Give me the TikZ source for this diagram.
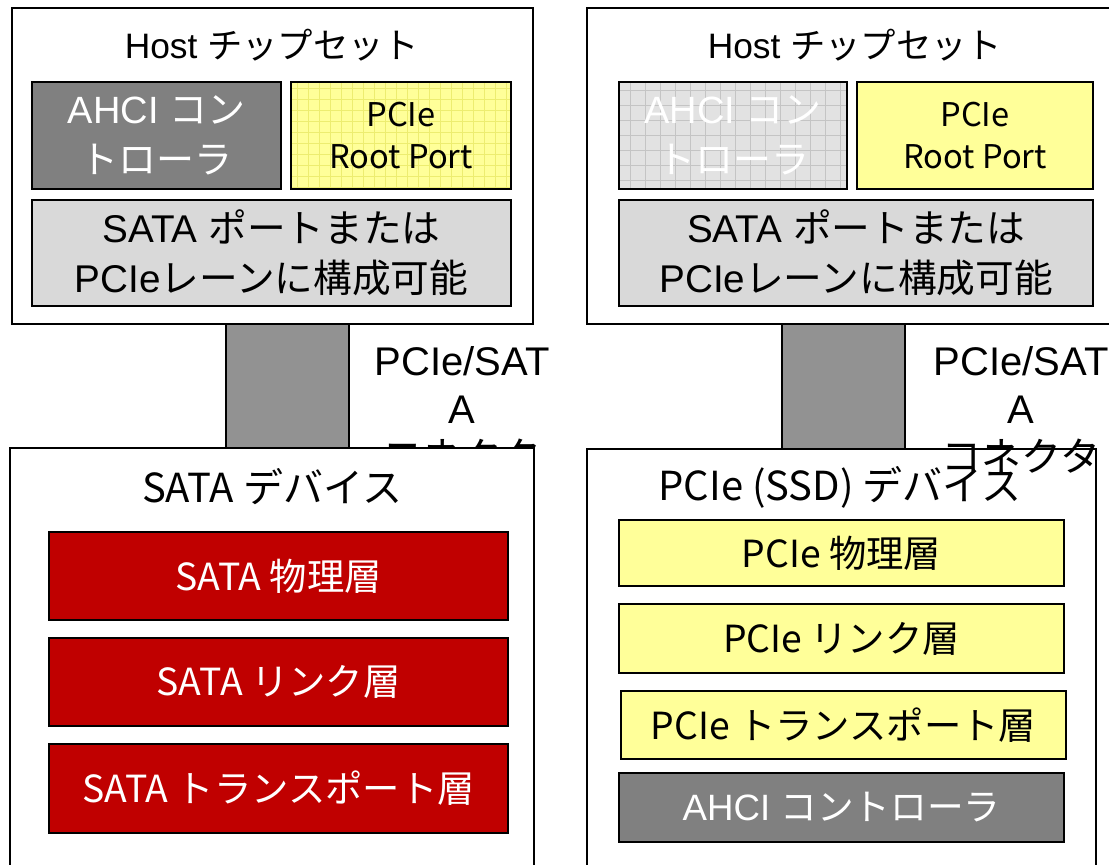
\documentclass[tikz,border=0pt]{standalone}
\usepackage{fontspec}
\setmainfont{Liberation Sans}
\newfontfamily\jp{Noto Sans CJK JP}
\usetikzlibrary{calc}

\definecolor{lightyellow}{HTML}{FFFF99}
\definecolor{darkgray}{HTML}{808080}
\definecolor{portgray}{HTML}{D9D9D9}
\definecolor{dimgray}{HTML}{E2E2E2}
\definecolor{gridgray}{HTML}{C4C4C4}
\definecolor{gridyellow}{HTML}{EDED70}
\definecolor{layerred}{HTML}{C00000}
\definecolor{plug}{HTML}{929292}

% box given by its pixel corners (x1,y1)-(x2,y2)
\newcommand\pbox[7]{%
  \node[#6, minimum width={(#4-#2)*0.75pt}, minimum height={(#5-#3)*0.75pt}]
    (#1) at ({(#2+#4)/2},{(#3+#5)/2}) {#7};}

\tikzset{
  base/.style={draw=black, line width=1.5pt, inner sep=0pt, outer sep=0pt,
    align=center, font=\fontsize{28}{37.5}\selectfont},
  outerbox/.style={base, fill=white},
  ahcibox/.style={base, fill=darkgray, text=white, font=\fontsize{28.5}{37.5}\selectfont},
  rootbox/.style={base, fill=lightyellow, font=\fontsize{24.5}{31.5}\selectfont},
  portbox/.style={base, fill=portgray, font=\fontsize{29}{37.5}\selectfont},
  plugbox/.style={base, fill=plug},
  redlayer/.style={base, fill=layerred, text=white},
  yellowlayer/.style={base, fill=lightyellow},
  graylayer/.style={base, fill=darkgray, text=white, font=\fontsize{27.5}{36}\selectfont},
  hosttext/.style={inner sep=0pt, font=\fontsize{26.5}{36}\selectfont},
  titletext/.style={inner sep=0pt, font=\fontsize{30}{36}\selectfont},
  plugtext/.style={inner sep=0pt, align=center, font=\fontsize{30}{36}\selectfont},
}

\begin{document}
\begin{tikzpicture}[x=0.75pt, y=-0.75pt]
\clip (0,0) rectangle (1109,864);
\fill[white] (0,0) rectangle (1109,864);

% ---------------- left: SATA device ----------------
\pbox{hostL}{12}{8}{533}{324}{outerbox}{}
\node[hosttext] (hostLt) at (272,45) {Host {\jp チップセット}};
\pbox{ahciL}{32}{82}{281}{189}{ahcibox}{AHCI {\jp コン}\\{\jp トローラ}}
\pbox{rootL}{291}{82}{511}{189}{rootbox}{}
\begin{scope}
  \clip (291,82) rectangle (511,189);
  \draw[gridyellow, line width=0.5pt, step=8.25pt] (291,82) grid (511,189);
\end{scope}
\node[base, draw=none, fill=none, font=\fontsize{24.5}{31.5}\selectfont] (rootLt) at (rootL) {{\jp PCIe}\\{\jp Root Port}};
\draw[black, line width=1.5pt] (rootL.south west) rectangle (rootL.north east);
\pbox{portL}{32}{200}{511}{306}{portbox}{SATA {\jp ポートまたは}\\PCIe{\jp レーンに構成可能}}

\pbox{plugL}{226}{324}{349}{448}{plugbox}{}
\node[plugtext] (plugLt) at (462,410) {PCIe/SAT\\A\\{\jp コネクタ}};

\pbox{devL}{10}{448}{534}{900}{outerbox}{}
\node[titletext] (devLt) at (272,487) {\jp SATA デバイス};
\pbox{phyL}{49}{532}{508}{620}{redlayer}{\jp SATA 物理層}
\pbox{linkL}{49}{638}{508}{726}{redlayer}{\jp SATA リンク層}
\pbox{tranL}{49}{744}{508}{833}{redlayer}{\jp SATA トランスポート層}

% ---------------- right: PCIe (SSD) device ----------------
\pbox{hostR}{587}{8}{1130}{324}{outerbox}{}
\node[hosttext] (hostRt) at (855,45) {Host {\jp チップセット}};
\pbox{ahciR}{619}{82}{847}{189}{base, fill=dimgray}{}
\begin{scope}
  \clip (619,82) rectangle (847,189);
  \draw[gridgray, line width=0.5pt, step=11.25pt] (619,82) grid (847,189);
\end{scope}
\node[base, draw=none, fill=none, text=white, font=\fontsize{28.5}{37.5}\selectfont] (ahciRt) at (ahciR) {AHCI {\jp コン}\\{\jp トローラ}};
\draw[black, line width=1.5pt] (ahciR.south west) rectangle (ahciR.north east);
\pbox{rootR}{857}{82}{1093}{189}{rootbox}{{\jp PCIe}\\{\jp Root Port}}
\pbox{portR}{619}{200}{1093}{306}{portbox}{SATA {\jp ポートまたは}\\PCIe{\jp レーンに構成可能}}

\pbox{plugR}{782}{324}{905}{449}{plugbox}{}

\pbox{devR}{587}{449}{1096}{900}{outerbox}{}
\node[titletext] (devRt) at (840,487) {\jp PCIe (SSD) デバイス};
\pbox{phyR}{619}{520}{1064}{586}{yellowlayer}{\jp PCIe 物理層}
\pbox{linkR}{619}{604}{1064}{673}{yellowlayer}{\jp PCIe リンク層}
\pbox{tranR}{621}{691}{1066}{759}{yellowlayer}{\jp PCIe トランスポート層}
\pbox{ahciD}{619}{773}{1064}{842}{graylayer}{AHCI {\jp コントローラ}}

\node[plugtext] (plugRt) at (1021,410) {PCIe/SAT\\A\\{\jp コネクタ}};
\end{tikzpicture}
\end{document}
